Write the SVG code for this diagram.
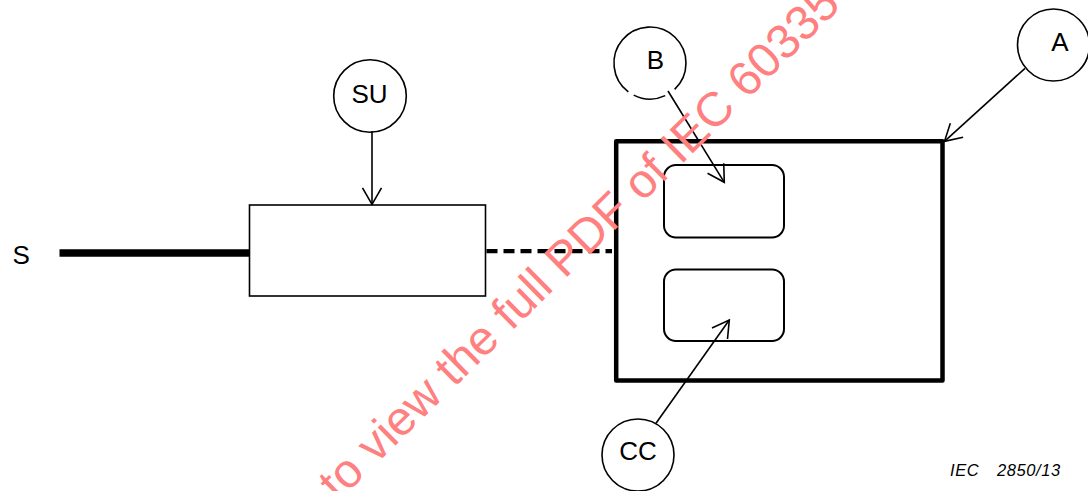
<svg xmlns="http://www.w3.org/2000/svg" width="1088" height="491" viewBox="0 0 1088 491">
  <style>
    .thin { fill: none; stroke: #000; stroke-width: 1.6; }
    .inner { fill: none; stroke: #000; stroke-width: 2; }
    .frame { fill: none; stroke: #000; stroke-width: 4.5; stroke-linejoin: round; }
    .lbl { font-family: "Liberation Sans", Arial, sans-serif; font-size: 26px; fill: #000; }
    .ref { font-family: "Liberation Sans", Arial, sans-serif; font-size: 16.5px; font-style: italic; letter-spacing: 0.6px; fill: #000; }
    .wm { font-family: "Liberation Sans", Arial, sans-serif; font-size: 48px; fill: #ff8080; }
  </style>
  <defs>
    <marker id="arr" markerUnits="userSpaceOnUse" viewBox="-20 -12 22 24" markerWidth="22" markerHeight="24" refX="0" refY="0" orient="auto">
      <path d="M-16.5,-9.5 L0,0 L-16.5,9.5" fill="none" stroke="#000" stroke-width="1.6"/>
    </marker>
  </defs>
  <rect width="1088" height="491" fill="#fff"/>

  <g id="node-S">
    <text class="lbl" x="12.5" y="264">S</text>
  </g>
  <g id="node-unit">
    <rect class="thin" x="249.5" y="205" width="236" height="91"/>
  </g>
  <g id="node-SU">
    <circle class="thin" cx="370" cy="96" r="36.3"/>
    <text class="lbl" x="369.5" y="103.3" text-anchor="middle">SU</text>
  </g>
  <g id="node-appliance">
    <rect class="frame" x="616.2" y="141.2" width="326.3" height="239.3"/>
  </g>
  <g id="node-B-box">
    <rect class="inner" x="664" y="165" width="120" height="72.5" rx="12" ry="12"/>
  </g>
  <g id="node-CC-box">
    <rect class="inner" x="664" y="269.5" width="120" height="71.5" rx="12" ry="12"/>
  </g>
  <g id="node-A">
    <circle class="thin" cx="1053.5" cy="45" r="36"/>
    <text class="lbl" x="1060" y="51" text-anchor="middle">A</text>
  </g>
  <g id="node-B">
    <path class="thin" d="M665.2,95.6 A36,36 0 0 1 633.7,95.1 M628.3,91.8 A36,36 0 1 1 674.6,89.3"/>
    <text class="lbl" x="655.5" y="69" text-anchor="middle">B</text>
  </g>
  <g id="node-CC">
    <circle class="thin" cx="638" cy="455" r="36"/>
    <text class="lbl" x="638" y="460" text-anchor="middle">CC</text>
  </g>

  <g id="connectors">
    <line x1="59.5" y1="253" x2="249.5" y2="253" stroke="#000" stroke-width="7.5"/>
    <line x1="486.5" y1="251.2" x2="612" y2="251.2" stroke="#000" stroke-width="4.2" stroke-dasharray="11,6"/>
    <line class="thin" x1="372" y1="131" x2="372" y2="204.3" marker-end="url(#arr)"/>
    <line class="thin" x1="668" y1="91" x2="724.3" y2="182.3" marker-end="url(#arr)"/>
    <line class="thin" x1="1025" y1="68.3" x2="944.5" y2="141.3" marker-end="url(#arr)"/>
    <line class="thin" x1="656" y1="423.3" x2="729.3" y2="320" marker-end="url(#arr)"/>
  </g>

  <g id="caption">
    <text class="ref" x="950" y="476">IEC</text>
    <text class="ref" x="997" y="476">2850/13</text>
  </g>

  <g id="watermark">
    <text class="wm" transform="translate(338,502) rotate(-44.5)">to view the full PDF of IEC 60335</text>
  </g>
</svg>
